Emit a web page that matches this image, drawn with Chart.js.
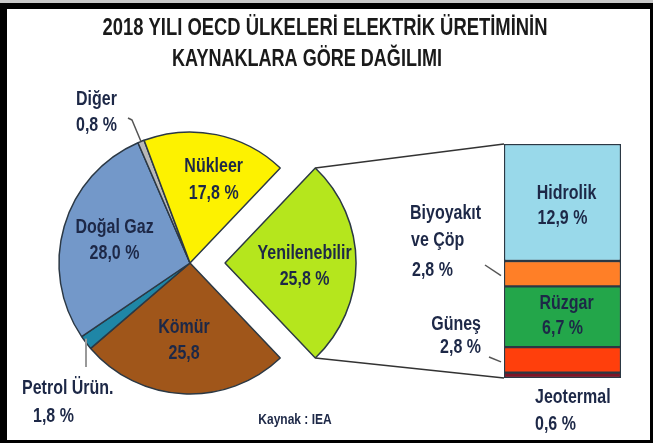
<!DOCTYPE html>
<html>
<head>
<meta charset="utf-8">
<script src="https://cdn.jsdelivr.net/npm/chart.js@4.4.1/dist/chart.umd.min.js"></script>
<style>
  html, body { margin: 0; padding: 0; background: #fff; }
  #wrap { position: relative; width: 653px; height: 443px; background: #c8c8c8; overflow: hidden; }
  #frame { position: absolute; left: 0; top: 3px; width: 643px; height: 431px; border-style: solid; border-color: #000; border-width: 6px 3px 3px 7px; background: #fff; }
  canvas { position: absolute; left: 0; top: 0; }
</style>
</head>
<body>
<div id="wrap">
  <div id="frame"></div>
  <canvas id="pie" width="653" height="443"></canvas>
  <canvas id="bar" width="653" height="443"></canvas>
</div>
<script>
// --- data ---
const titleLines = ['2018 YILI OECD ÜLKELERİ ELEKTRİK ÜRETİMİNİN', 'KAYNAKLARA GÖRE DAĞILIMI'];
const pieLabels = ['Yenilenebilir', 'Kömür', 'Petrol Ürün.', 'Doğal Gaz', 'Diğer', 'Nükleer'];
const pieValues = [25.8, 25.8, 1.8, 28.0, 0.8, 17.8];
const renewLabels = ['Jeotermal', 'Güneş', 'Rüzgar', 'Biyoyakıt ve Çöp', 'Hidrolik'];
const renewValues = [0.6, 2.8, 6.7, 2.8, 12.9];
const sourceText = 'Kaynak : IEA';

const pieColors = ['#b5e61d', '#a0561a', '#1f86a6', '#7398c9', '#b8b8b8', '#fdf200'];
const renewColors = ['#7d1426', '#ff3f0c', '#23a64a', '#ff7f27', '#99d9ea'];
const TEXT = '#1d2847';
const EDGE = '#2b3844';
const RADIUS = 131;
const EXPLODE = 35;

const fmt = v => v.toFixed(1).replace('.', ',');

// condensed-looking text: squeeze horizontally (fixed factor, or to a target width w)
function drawText(ctx, text, x, y, o) {
    o = o || {};
    ctx.save();
    ctx.font = (o.weight || 'bold') + ' ' + (o.size || 20) + 'px "Liberation Sans", Arial, sans-serif';
    ctx.fillStyle = o.color || TEXT;
    ctx.textAlign = o.align || 'center';
    ctx.textBaseline = 'middle';
    let sx = o.sx || 0.8;
    if (o.w) sx = o.w / ctx.measureText(text).width;
    ctx.translate(x, y);
    ctx.scale(sx, 1);
    ctx.fillText(text, 0, 0);
    ctx.restore();
}

function line(ctx, pts, color, width) {
    ctx.save();
    ctx.strokeStyle = color;
    ctx.lineWidth = width;
    ctx.lineJoin = 'round';
    ctx.beginPath();
    pts.forEach((p, i) => i ? ctx.lineTo(p[0], p[1]) : ctx.moveTo(p[0], p[1]));
    ctx.stroke();
    ctx.restore();
}

// label placement for the pie slices (same order as pieLabels)
const pieLabelSpec = [
    { nudge: [1, 3] },
    { nudge: [-2, -1.5], noPct: true },
    { x: [22, 33], y: [388, 416] },
    { nudge: [0, -1] },
    { x: [76, 76], y: [99, 125] },
    { nudge: [8, -6] }
];

function explodeShift(arc, i) {
    if (i !== 0) return [0, 0];
    const mid = (arc.startAngle + arc.endAngle) / 2;
    return [Math.cos(mid) * EXPLODE, Math.sin(mid) * EXPLODE];
}

const pieText = {
    id: 'pieText',
    afterDatasetsDraw(chart) {
        const ctx = chart.ctx;
        const arcs = chart.getDatasetMeta(0).data;

        drawText(ctx, titleLines[0], 325, 28, { size: 24, w: 445, color: '#1a1a1a' });
        drawText(ctx, titleLines[1], 307, 59, { size: 24, w: 270, color: '#1a1a1a' });

        arcs.forEach((arc, i) => {
            const spec = pieLabelSpec[i];
            const value = spec.noPct ? fmt(pieValues[i]) : fmt(pieValues[i]) + ' %';
            const mid = (arc.startAngle + arc.endAngle) / 2;
            if (spec.nudge) {
                const sh = explodeShift(arc, i);
                const cx = arc.x + sh[0] + Math.cos(mid) * RADIUS * 0.6 + spec.nudge[0];
                const cy = arc.y + sh[1] + Math.sin(mid) * RADIUS * 0.6 + spec.nudge[1];
                drawText(ctx, pieLabels[i], cx, cy - 13);
                drawText(ctx, value, cx, cy + 13.5);
            } else {
                drawText(ctx, pieLabels[i], spec.x[0], spec.y[0], { align: 'left' });
                drawText(ctx, value, spec.x[1], spec.y[1], { align: 'left' });
                const ex = arc.x + Math.cos(mid) * RADIUS;
                const ey = arc.y + Math.sin(mid) * RADIUS;
                if (i === 4) {
                    line(ctx, [[128, 118], [132, 120], [ex, ey]], '#555', 1.5);
                } else {
                    line(ctx, [[ex, ey - 4], [ex, 367]], '#999', 2);
                }
            }
        });

        drawText(ctx, sourceText, 295, 420, { size: 15 });
    }
};

const pieChart = new Chart(document.getElementById('pie'), {
    type: 'pie',
    data: {
        labels: pieLabels,
        datasets: [{
            data: pieValues,
            backgroundColor: pieColors,
            borderColor: EDGE,
            borderWidth: 1.5,
            offset: pieLabels.map((_, i) => i === 0 ? EXPLODE * 4 : 0)
        }]
    },
    options: {
        responsive: false,
        animation: false,
        events: [],
        radius: RADIUS,
        rotation: 90 - pieValues[0] / pieValues.reduce((a, b) => a + b, 0) * 180,
        layout: { padding: { left: 0, right: 273, top: 83, bottom: 0 } },
        plugins: { legend: { display: false }, tooltip: { enabled: false } }
    },
    plugins: [pieText]
});

// labels around the stacked bar (same order as renewLabels)
const renewLabelSpec = [
    { lines: ['Jeotermal', fmt(renewValues[0]) + ' %'], x: [535, 535], y: [397, 424], align: 'left' },
    { lines: ['Güneş', fmt(renewValues[1]) + ' %'], x: [481, 481], y: [324, 347], align: 'right', leader: [489, 357] },
    { inside: true, nudge: -1 },
    { lines: ['Biyoyakıt', 've Çöp', fmt(renewValues[3]) + ' %'], x: [410, 411, 412], y: [213, 240, 270], align: 'left', leader: [485, 265] },
    { inside: true, nudge: 3.5 }
];

const barText = {
    id: 'barText',
    afterDatasetsDraw(chart) {
        const ctx = chart.ctx;
        const bars = chart.data.datasets.map((_, i) => chart.getDatasetMeta(i).data[0]);

        bars.forEach((bar, i) => {
            const spec = renewLabelSpec[i];
            const top = Math.min(bar.y, bar.base);
            const bottom = Math.max(bar.y, bar.base);
            const left = bar.x - bar.width / 2;
            if (spec.inside) {
                const cy = (top + bottom) / 2 + spec.nudge;
                drawText(ctx, renewLabels[i], bar.x + 4, cy - 12.5);
                drawText(ctx, fmt(renewValues[i]) + ' %', bar.x, cy + 12.5);
            } else {
                spec.lines.forEach((t, k) => drawText(ctx, t, spec.x[k], spec.y[k], { align: spec.align }));
                if (spec.leader) {
                    line(ctx, [spec.leader, [left - 3, (top + bottom) / 2 + 2]], '#555', 1.5);
                }
            }
        });

        // connector lines from the exploded slice to the bar
        const arc = pieChart.getDatasetMeta(0).data[0];
        const sh = explodeShift(arc, 0);
        const vx = arc.x + sh[0], vy = arc.y + sh[1];
        const topBar = bars[bars.length - 1];
        const botBar = bars[0];
        const left = topBar.x - topBar.width / 2;
        line(ctx, [[vx + Math.cos(arc.startAngle) * RADIUS, vy + Math.sin(arc.startAngle) * RADIUS], [left, Math.min(topBar.y, topBar.base)]], '#333', 1.5);
        line(ctx, [[vx + Math.cos(arc.endAngle) * RADIUS, vy + Math.sin(arc.endAngle) * RADIUS], [left, Math.max(botBar.y, botBar.base)]], '#333', 1.5);
    }
};

new Chart(document.getElementById('bar'), {
    type: 'bar',
    data: {
        labels: ['Yenilenebilir'],
        datasets: renewLabels.map((name, i) => ({
            label: name,
            data: [renewValues[i]],
            backgroundColor: renewColors[i],
            borderColor: EDGE,
            borderWidth: 1.5,
            borderSkipped: false,
            barPercentage: 1,
            categoryPercentage: 1
        }))
    },
    options: {
        responsive: false,
        animation: false,
        events: [],
        layout: { padding: { left: 504, right: 32, top: 144, bottom: 65 } },
        scales: {
            x: { display: false, stacked: true },
            y: { display: false, stacked: true, min: 0, max: renewValues.reduce((a, b) => a + b, 0) }
        },
        plugins: { legend: { display: false }, tooltip: { enabled: false } }
    },
    plugins: [barText]
});
</script>
</body>
</html>
